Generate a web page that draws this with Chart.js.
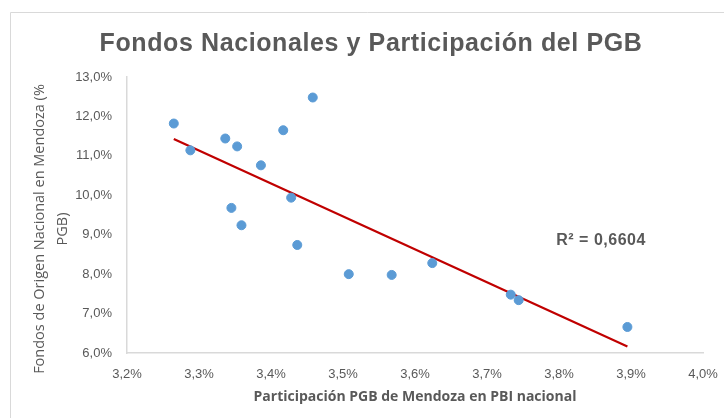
<!DOCTYPE html>
<html>
<head>
<meta charset="utf-8">
<script src="https://cdn.jsdelivr.net/npm/chart.js@4"></script>
<style>
html,body{margin:0;padding:0;background:#fff;}
#wrap{width:724px;height:418px;}
</style>
</head>
<body>
<div id="wrap"><canvas id="c" width="724" height="418"></canvas></div>
<script>
// Data
const participacionPGB = [3.265, 3.288, 3.3365, 3.353, 3.386, 3.417, 3.458, 3.428, 3.345, 3.359, 3.4365, 3.508, 3.5676, 3.624, 3.733, 3.744, 3.895];
const fondosNacionales = [11.82, 11.14, 11.44, 11.24, 10.76, 11.65, 12.48, 9.94, 9.68, 9.24, 8.74, 8.00, 7.98, 8.28, 7.48, 7.34, 6.66];
const r2Label = 'R² = 0,6604';
const titleText = 'Fondos Nacionales y Participación del PGB';
const xTitle = 'Participación PGB de Mendoza en PBI nacional';
const yTitle = ['Fondos de Origen Nacional en Mendoza (%', 'PGB)'];

const points = participacionPGB.map((x, i) => ({x: x, y: fondosNacionales[i]}));

// Linear trendline (least squares) over the data
const n = points.length;
const mx = participacionPGB.reduce((a, b) => a + b, 0) / n;
const my = fondosNacionales.reduce((a, b) => a + b, 0) / n;
let sxy = 0, sxx = 0;
for (let i = 0; i < n; i++) { sxy += (participacionPGB[i] - mx) * (fondosNacionales[i] - my); sxx += (participacionPGB[i] - mx) ** 2; }
const slope = sxy / sxx, icpt = my - slope * mx;
const xMin = Math.min(...participacionPGB), xMax = Math.max(...participacionPGB);
const trend = [{x: xMin, y: icpt + slope * xMin}, {x: xMax, y: icpt + slope * xMax}];

const fmt = v => v.toFixed(1).replace('.', ',') + '%';
const tickFont = {family: "'Liberation Sans Narrow', 'Liberation Sans', sans-serif", size: 13};

const decor = {
  id: 'decor',
  beforeDraw(chart) {
    const ctx = chart.ctx;
    ctx.save();
    ctx.strokeStyle = '#d9d9d9';
    ctx.lineWidth = 1;
    ctx.beginPath();
    ctx.moveTo(10.5, 418); ctx.lineTo(10.5, 12.5); ctx.lineTo(724, 12.5);
    ctx.stroke();
    ctx.restore();
  },
  afterDraw(chart) {
    const ctx = chart.ctx, a = chart.chartArea;
    ctx.save();
    ctx.fillStyle = '#595959';
    ctx.textAlign = 'center';
    ctx.textBaseline = 'alphabetic';
    // title
    ctx.font = "bold 25px 'Liberation Sans', sans-serif";
    if ('letterSpacing' in ctx) ctx.letterSpacing = '0.6px';
    ctx.fillText(titleText, 371, 51);
    // R² label
    ctx.font = "bold 16px 'Liberation Sans', sans-serif";
    if ('letterSpacing' in ctx) ctx.letterSpacing = '0.5px';
    ctx.textBaseline = 'middle';
    ctx.fillText(r2Label, a.left + (a.right - a.left) * 0.823, a.top + (a.bottom - a.top) * 0.594);
    // y axis title (rotated, two lines)
    if ('letterSpacing' in ctx) ctx.letterSpacing = '0px';
    ctx.font = "14.5px 'Open Sans', sans-serif";
    ctx.translate(0, 229);
    ctx.rotate(-Math.PI / 2);
    ctx.fillText(yTitle[0], 0, 40);
    ctx.fillText(yTitle[1], 0, 63);
    ctx.restore();
  }
};

new Chart(document.getElementById('c'), {
  type: 'scatter',
  data: {
    datasets: [
      {
        label: 'Fondos',
        data: points,
        backgroundColor: '#5b9bd5',
        borderColor: '#5b9bd5',
        pointRadius: 4.5,
        pointBorderWidth: 1,
        order: 1
      },
      {
        label: 'Tendencia',
        type: 'line',
        data: trend,
        borderColor: '#c00000',
        borderWidth: 2.2,
        pointRadius: 0,
        fill: false,
        order: 2
      }
    ]
  },
  options: {
    responsive: false,
    animation: false,
    devicePixelRatio: 1,
    layout: {padding: {left: 10, right: 21, top: 77, bottom: 10}},
    plugins: {
      legend: {display: false},
      tooltip: {enabled: false},
      title: {display: false}
    },
    scales: {
      x: {
        type: 'linear',
        min: 3.2, max: 4.0,
        afterFit: s => { s.height = 55; s.paddingLeft = 0; s.paddingRight = 0; },
        grid: {display: false, drawTicks: false},
        border: {color: '#d9d9d9', width: 1.5},
        ticks: {stepSize: 0.1, color: '#595959', font: tickFont, padding: 14, callback: v => fmt(v)},
        title: {display: true, text: xTitle, color: '#595959', font: {family: "'Open Sans', sans-serif", size: 14, weight: 'bold'}, padding: {top: 0, bottom: 3}}
      },
      y: {
        min: 6, max: 13,
        afterFit: s => { s.width = 117; s.paddingTop = 0; s.paddingBottom = 0; },
        grid: {display: false, drawTicks: false},
        border: {color: '#d9d9d9', width: 1.5},
        ticks: {stepSize: 1, color: '#595959', font: tickFont, padding: 15, callback: v => fmt(v)},
        title: {display: false}
      }
    }
  },
  plugins: [decor]
});
</script>
</body>
</html>
